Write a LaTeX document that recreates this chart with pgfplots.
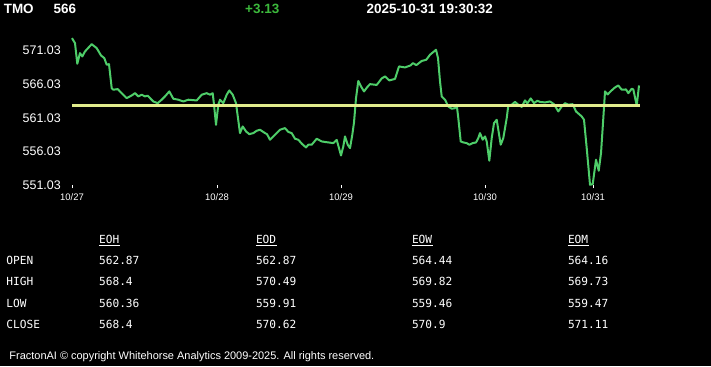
\documentclass[border=0pt]{standalone}
\usepackage{fontspec}
\setmainfont{Liberation Sans}
\newfontfamily\mono{DejaVu Sans Mono}
\usepackage{pgfplots}
\pgfplotsset{compat=1.18}
\usepackage{pgfplotstable}
\definecolor{linegreen}{RGB}{78,205,105}
\definecolor{refyellow}{RGB}{225,236,140}
\definecolor{hdrgreen}{RGB}{60,185,60}
\pgfplotstableread{
x y
72 572.85
75 572.11
77.3 569.06
80 570.63
82.3 570.14
85 570.88
91.7 571.96
96.7 571.37
101 570.29
104.3 569.89
106.7 568.91
109 569.00
111.7 565.44
113.3 565.21
117.7 565.30
126.7 563.96
131.7 564.36
135 564.70
138.3 564.22
141.7 564.47
145 564.22
147.7 564.32
153.3 563.47
157.7 563.22
161.7 563.73
165 564.22
169.3 564.96
173.3 563.87
178.3 563.73
183.3 563.47
188.3 563.73
196.7 563.62
201.7 564.47
206.7 564.70
210 564.47
212.7 564.70
214 562.99
216 560.02
218.3 562.99
220 563.73
223.3 563.22
226.7 564.47
229.3 565.10
232.7 564.47
236 563.22
240 558.78
242.7 559.77
246 559.03
249.3 558.63
253.3 558.78
256.7 559.13
260 559.28
265 558.78
267 558.63
270 557.80
275 558.54
280 559.28
285 559.52
288.3 558.96
291.7 558.78
295 557.95
298.3 557.80
302 557.18
306 556.66
308.3 557.06
311.7 557.06
316.7 557.95
321.7 557.55
325 557.47
330 557.37
333.3 557.30
336.7 557.77
339 556.56
341 555.47
343.3 556.81
345 558.29
347.7 557.06
350 556.56
352.3 558.54
354 560.36
356 563.96
358.3 566.51
361 565.70
364 564.96
367 565.55
370 566.04
376.7 565.92
381.7 566.88
385 567.18
389.3 566.59
395 566.81
399 568.66
405 568.51
410.5 568.81
413 569.15
416.3 568.85
421.7 569.47
426.3 569.65
430 570.39
436 571.13
438 569.89
440 566.44
441.7 564.22
445 563.73
448.3 562.73
451.7 562.39
455 562.48
456.7 562.99
458.3 561.00
460.7 557.55
463.3 557.40
466.7 557.30
469.3 557.06
472.7 557.30
476 557.40
478.3 558.04
480 558.78
482.7 557.80
485 558.29
486.7 557.55
489.3 554.69
491.7 558.04
494 560.26
496.7 560.76
498.3 559.28
500.7 557.06
503.3 558.04
506.7 561.00
508.3 562.88
511.7 562.99
515 563.40
518.3 562.99
521.7 562.66
525 563.62
527.3 563.18
530.7 563.92
534 563.22
537.3 563.58
540 563.40
545 563.33
550 563.47
554 563.07
558.3 561.99
561.7 562.73
565 563.22
568.3 562.99
572.7 563.07
576 561.99
581.7 561.25
584 560.76
586.7 556.56
590 551.13
592.7 551.22
596 554.84
598.7 553.21
601 555.82
603.3 561.00
605 564.96
607.7 564.51
610.5 564.96
615 565.55
618.3 565.84
621.7 565.21
626 565.25
628.3 564.70
631.7 565.36
633.3 565.25
636.7 562.88
639 565.84
}\pricedata
\begin{document}
\begin{tikzpicture}[x=1bp,y=1bp]
\fill[black] (0,0) rectangle (711,366);
\begin{axis}[
  at={(72,267.5)}, anchor=south west,
  width=568bp, height=148bp, scale only axis,
  xmin=72, xmax=640, ymin=551.03, ymax=572.956,
  axis line style={draw=none},
  clip=false,
  ytick={551.03,556.03,561.03,566.03,571.03},
  yticklabels={551.03,556.03,561.03,566.03,571.03},
  xtick={72,217,341,485,593},
  xticklabels={10/27,10/28,10/29,10/30,10/31},
  xtick pos=bottom,
  ytick style={draw=none},
  xtick style={white, line width=0.9bp},
  tick align=outside, major tick length=3bp,
  yticklabel style={font=\fontsize{12.5}{14}\selectfont, text=white, anchor=east, inner sep=0pt, xshift=-8bp},
  xticklabel style={font=\fontsize{9.5}{11}\selectfont, text=white, anchor=base, inner sep=0pt, yshift=-12bp},
]
\addplot[linegreen, line width=2bp, line join=round] table[x=x,y=y] {\pricedata};
\addplot[refyellow, line width=2.2bp] coordinates {(72,562.87) (640,562.87)};
\end{axis}
% header
\node[anchor=base west, inner sep=0pt, text=white, font=\fontsize{13.5}{16}\selectfont\bfseries] at (3.6,352.5) {TMO};
\node[anchor=base west, inner sep=0pt, text=white, font=\fontsize{13.5}{16}\selectfont\bfseries] at (53.5,352.5) {566};
\node[anchor=base west, inner sep=0pt, text=hdrgreen, font=\fontsize{13.5}{16}\selectfont\bfseries] at (245,352.5) {+3.13};
\node[anchor=base west, inner sep=0pt, text=white, font=\fontsize{13.5}{16}\selectfont\bfseries] at (366.4,352.5) {2025-10-31 19:30:32};
% table
\begin{scope}[every node/.style={anchor=base west, inner sep=0pt, text=white, font=\mono\fontsize{11.2}{13}\selectfont}]
\node at (98.9,123) {EOH}; \draw[white, line width=0.8bp] (98.9,121) -- ++(21.5,0);
\node at (255.8,123) {EOD}; \draw[white, line width=0.8bp] (255.8,121) -- ++(21.5,0);
\node at (411.8,123) {EOW}; \draw[white, line width=0.8bp] (411.8,121) -- ++(21.5,0);
\node at (567.8,123) {EOM}; \draw[white, line width=0.8bp] (567.8,121) -- ++(21.5,0);
\node at (6.3,102) {OPEN};
\node at (6.3,80.5) {HIGH};
\node at (6.3,59) {LOW};
\node at (6.3,37.5) {CLOSE};
\node at (98.9,102) {562.87}; \node at (255.8,102) {562.87}; \node at (411.8,102) {564.44}; \node at (567.8,102) {564.16};
\node at (98.9,80.5) {568.4}; \node at (255.8,80.5) {570.49}; \node at (411.8,80.5) {569.82}; \node at (567.8,80.5) {569.73};
\node at (98.9,59) {560.36}; \node at (255.8,59) {559.91}; \node at (411.8,59) {559.46}; \node at (567.8,59) {559.47};
\node at (98.9,37.5) {568.4}; \node at (255.8,37.5) {570.62}; \node at (411.8,37.5) {570.9}; \node at (567.8,37.5) {571.11};
\end{scope}
% footer
\node[anchor=base west, inner sep=0pt, text=white, font=\fontsize{11}{13}\selectfont] at (9.3,6.7) {FractonAI \textcopyright{} copyright Whitehorse Analytics 2009-2025. All rights reserved.};
\end{tikzpicture}
\end{document}
